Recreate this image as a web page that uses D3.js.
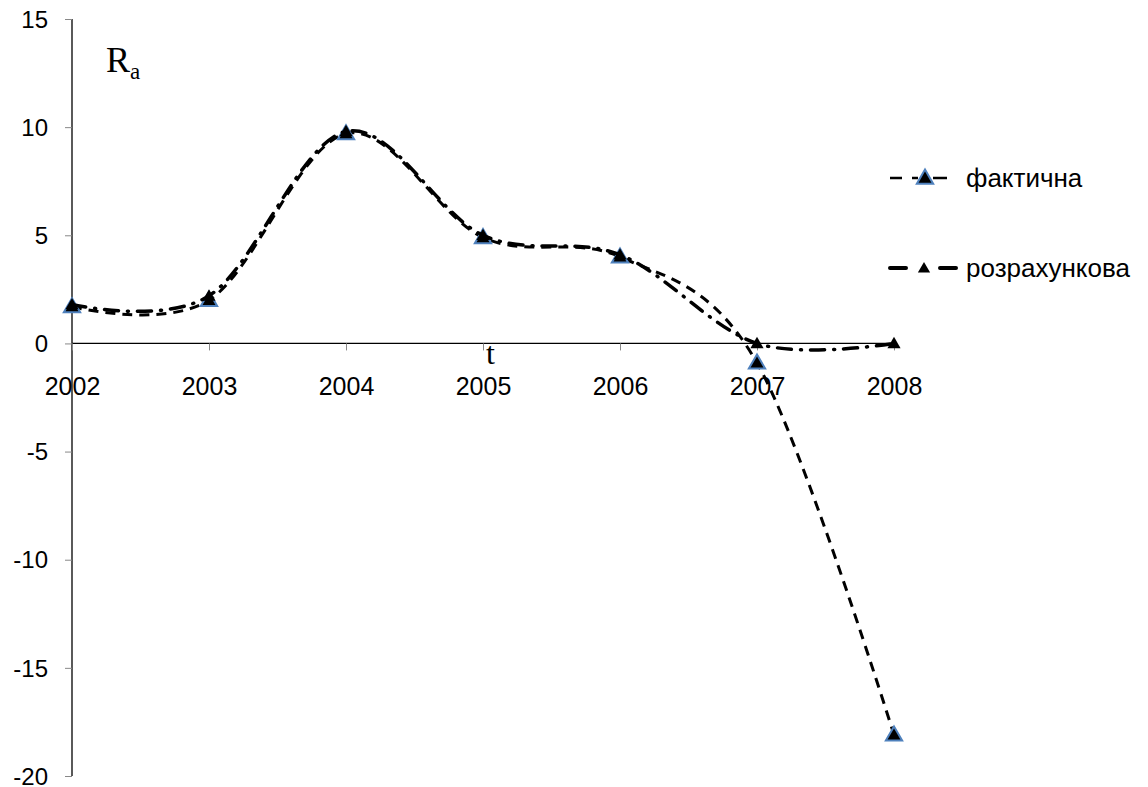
<!DOCTYPE html>
<html><head><meta charset="utf-8">
<script src="https://cdn.jsdelivr.net/npm/d3@7"></script>
<style>body{margin:0;background:#fff}svg{display:block}</style>
</head><body>
<svg id="c" width="1148" height="787"></svg>
<script>
const years = [2002, 2003, 2004, 2005, 2006, 2007, 2008];
const actual = [1.7, 2.0, 9.7, 4.9, 4.0, -0.9, -18.1];
const calculated = [1.8, 2.2, 9.8, 5.0, 4.1, 0.0, 0.0];
const yTicks = [15, 10, 5, 0, -5, -10, -15, -20];
const seriesNames = ["фактична", "розрахункова"];

const svg = d3.select("#c");
const x = d3.scaleLinear().domain([2002, 2008]).range([72, 894]);
const y = d3.scaleLinear().domain([-20, 15]).range([776, 19]);
const sans = "Liberation Sans, Arial, sans-serif";
const serif = "Liberation Serif, Times New Roman, serif";

// y axis
const ya = svg.append("g").attr("transform", "translate(72,0)")
  .call(d3.axisLeft(y).tickValues(yTicks).tickSize(7).tickPadding(17).tickFormat(d3.format("d")));
ya.select(".domain").attr("stroke", "#000").attr("stroke-width", 1.3).attr("d", `M0,${y(15)}V${y(-20)}`);
ya.selectAll(".tick line").attr("stroke", "#888");
ya.selectAll(".tick text").attr("font-family", sans).attr("font-size", 24).attr("fill", "#000")
  .attr("dy", "0.34em")
  .text(d => d < 0 ? "-" + Math.abs(d) : d);

// x axis at y=0
const xa = svg.append("g").attr("transform", `translate(0,${y(0)})`)
  .call(d3.axisBottom(x).tickValues(years).tickSize(7).tickPadding(27).tickFormat(d3.format("d")));
xa.select(".domain").attr("stroke", "#000").attr("stroke-width", 1.3).attr("d", `M${x(2002)},0H${x(2008)}`);
xa.selectAll(".tick line").attr("stroke", "#888");
xa.selectAll(".tick text").attr("font-family", sans).attr("font-size", 25).attr("fill", "#000");

// axis labels
const ra = svg.append("text").attr("x", 106).attr("y", 72).attr("font-family", serif).attr("font-size", 36).attr("fill", "#000");
ra.append("tspan").text("R");
ra.append("tspan").attr("font-size", 23).attr("dy", 7).text("a");
svg.append("text").attr("x", 486).attr("y", 364).attr("font-family", serif).attr("font-size", 32).attr("fill", "#000").text("t");

const line = d3.line().x(d => x(d[0])).y(d => y(d[1])).curve(d3.curveCatmullRom.alpha(0));
const tri = d3.symbol().type(d3.symbolTriangle);

// actual series
const actData = years.map((yr, i) => [yr, actual[i]]);
svg.append("path").datum(actData)
  .attr("d", line).attr("fill", "none").attr("stroke", "#000").attr("stroke-width", 3).attr("stroke-dasharray", "10,7");
svg.append("g").selectAll("path").data(actData).join("path")
  .attr("transform", d => `translate(${x(d[0])},${y(d[1]) + 1})`)
  .attr("d", tri.size(115)).attr("fill", "#000").attr("stroke", "#4f81bd").attr("stroke-width", 2);

// calculated series
const calData = years.map((yr, i) => [yr, calculated[i]]);
svg.append("path").datum(calData)
  .attr("d", line).attr("fill", "none").attr("stroke", "#000").attr("stroke-width", 3.5)
  .attr("stroke-linecap", "round").attr("stroke-dasharray", "14,9,1,9");
svg.append("g").selectAll("path").data(calData).join("path")
  .attr("transform", d => `translate(${x(d[0])},${y(d[1]) + 1})`)
  .attr("d", tri.size(75)).attr("fill", "#000");

// legend
const lg = svg.append("g");
const ly = [178, 268];
lg.append("path").attr("d", `M890,${ly[0]}H902M912,${ly[0]}H918M933,${ly[0]}H947`).attr("stroke", "#000").attr("stroke-width", 2.5);
lg.append("path").attr("transform", `translate(925,${ly[0] + 1})`).attr("d", tri.size(115)).attr("fill", "#000").attr("stroke", "#4f81bd").attr("stroke-width", 2);
lg.append("path").attr("d", `M890,${ly[1]}H906M940,${ly[1]}H956`).attr("stroke", "#000").attr("stroke-width", 4).attr("stroke-linecap", "round");
lg.append("path").attr("transform", `translate(924,${ly[1] + 1})`).attr("d", tri.size(65)).attr("fill", "#000");
lg.selectAll("text.l").data(seriesNames).join("text").attr("class", "l")
  .attr("x", 966).attr("y", (d, i) => ly[i] + 9)
  .attr("font-family", sans).attr("font-size", 26).attr("fill", "#000").text(d => d);
</script>
</body></html>
